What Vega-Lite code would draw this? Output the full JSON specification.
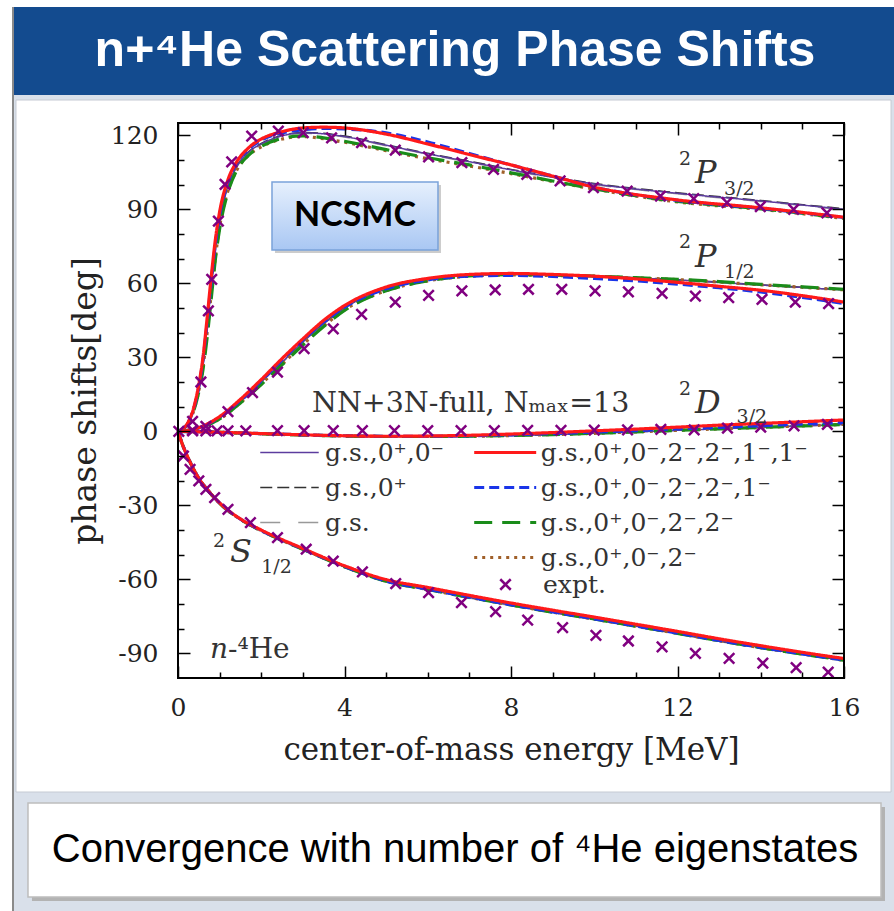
{
  "$schema": "https://vega.github.io/schema/vega-lite/v6.json",
  "width": 666,
  "height": 555,
  "autosize": "none",
  "padding": {"left": 178, "top": 123, "right": 50, "bottom": 233},
  "background": "white",
  "config": {"view": {"stroke": null}, "font": "DejaVu Serif"},
  "data": {"values": [{}]},
  "datasets": {
    "curves": [
      {"w":"P32","E":0,"n1":0,"n2":0,"n3":0,"n4":0,"n5":0,"n6":0,"n7":0},
      {"w":"P32","E":0.2,"n1":2.4,"n2":2.4,"n3":2.4,"n4":2.3,"n5":2.3,"n6":2.5,"n7":2.5},
      {"w":"P32","E":0.4,"n1":9.8,"n2":10.1,"n3":10,"n4":9.6,"n5":9.5,"n6":10.5,"n7":11},
      {"w":"P32","E":0.5,"n1":16.7,"n2":17.2,"n3":17,"n4":16.5,"n5":16,"n6":18,"n7":19},
      {"w":"P32","E":0.6,"n1":26.5,"n2":27.4,"n3":27,"n4":26,"n5":25,"n6":29,"n7":30},
      {"w":"P32","E":0.7,"n1":41.5,"n2":42.5,"n3":42,"n4":40,"n5":38,"n6":44,"n7":46},
      {"w":"P32","E":0.8,"n1":58.5,"n2":59.5,"n3":59,"n4":56,"n5":54,"n6":61,"n7":63},
      {"w":"P32","E":0.9,"n1":73.5,"n2":74.5,"n3":74,"n4":71,"n5":70,"n6":76,"n7":78},
      {"w":"P32","E":1.0,"n1":85,"n2":86,"n3":85.5,"n4":83,"n5":82,"n6":87.5,"n7":89},
      {"w":"P32","E":1.2,"n1":99.2,"n2":99.8,"n3":99.5,"n4":97.5,"n5":97,"n6":101,"n7":102},
      {"w":"P32","E":1.4,"n1":106.8,"n2":107.2,"n3":107,"n4":105.5,"n5":105.5,"n6":108.5,"n7":109},
      {"w":"P32","E":1.7,"n1":113,"n2":113.4,"n3":113.2,"n4":112,"n5":112,"n6":114.5,"n7":115},
      {"w":"P32","E":2.0,"n1":116.3,"n2":116.7,"n3":116.5,"n4":115.3,"n5":115.5,"n6":118,"n7":118.5},
      {"w":"P32","E":2.5,"n1":119.6,"n2":120,"n3":119.8,"n4":118.5,"n5":118.8,"n6":121,"n7":121.5},
      {"w":"P32","E":3,"n1":120.8,"n2":121.2,"n3":121,"n4":119.5,"n5":119.8,"n6":122.3,"n7":123},
      {"w":"P32","E":3.5,"n1":120.4,"n2":120.8,"n3":120.6,"n4":118.6,"n5":119,"n6":122.8,"n7":123.3},
      {"w":"P32","E":4,"n1":119.3,"n2":119.7,"n3":119.5,"n4":117.2,"n5":117.6,"n6":122.6,"n7":123},
      {"w":"P32","E":5,"n1":115.8,"n2":116.2,"n3":116,"n4":113.8,"n5":114.2,"n6":121,"n7":120.5},
      {"w":"P32","E":6,"n1":112.3,"n2":112.7,"n3":112.5,"n4":110.5,"n5":110.9,"n6":117.3,"n7":116.5},
      {"w":"P32","E":7,"n1":109.1,"n2":109.5,"n3":109.3,"n4":107.6,"n5":108,"n6":112.6,"n7":112.2},
      {"w":"P32","E":8,"n1":105.8,"n2":106.2,"n3":106,"n4":104.5,"n5":104.8,"n6":108,"n7":108},
      {"w":"P32","E":9,"n1":102.8,"n2":103.2,"n3":103,"n4":101.3,"n5":101.5,"n6":103.5,"n7":103.5},
      {"w":"P32","E":10,"n1":100.1,"n2":100.5,"n3":100.3,"n4":98.2,"n5":98.3,"n6":99,"n7":99},
      {"w":"P32","E":12,"n1":96.3,"n2":96.7,"n3":96.5,"n4":93,"n5":93.2,"n6":93.6,"n7":93.8},
      {"w":"P32","E":14,"n1":93.2,"n2":93.6,"n3":93.4,"n4":90,"n5":90.2,"n6":90.4,"n7":90.6},
      {"w":"P32","E":16,"n1":89.8,"n2":90.2,"n3":90,"n4":86.3,"n5":86.5,"n6":86.7,"n7":86.8},
      {"w":"P12","E":0,"n1":0,"n2":0,"n3":0,"n4":0,"n5":0,"n6":0,"n7":0},
      {"w":"P12","E":0.5,"n1":1.3,"n2":1.3,"n3":1.3,"n4":1.2,"n5":1.2,"n6":1.4,"n7":1.5},
      {"w":"P12","E":1,"n1":5.4,"n2":5.6,"n3":5.5,"n4":5,"n5":5,"n6":5.8,"n7":6},
      {"w":"P12","E":1.5,"n1":11.9,"n2":12.1,"n3":12,"n4":11.6,"n5":11.5,"n6":12.6,"n7":13},
      {"w":"P12","E":2,"n1":19.8,"n2":20.2,"n3":20,"n4":19.2,"n5":19,"n6":20.5,"n7":21},
      {"w":"P12","E":2.5,"n1":27.8,"n2":28.2,"n3":28,"n4":27.2,"n5":27,"n6":29,"n7":29.5},
      {"w":"P12","E":3,"n1":36.1,"n2":36.5,"n3":36.3,"n4":35.2,"n5":35,"n6":37,"n7":37.5},
      {"w":"P12","E":3.5,"n1":43.4,"n2":43.8,"n3":43.6,"n4":42.7,"n5":42.5,"n6":44.3,"n7":45},
      {"w":"P12","E":4,"n1":49.8,"n2":50.2,"n3":50,"n4":49.2,"n5":49,"n6":50.3,"n7":51},
      {"w":"P12","E":5,"n1":57.6,"n2":57.8,"n3":57.7,"n4":57,"n5":57,"n6":57.8,"n7":58.5},
      {"w":"P12","E":6,"n1":61.3,"n2":61.5,"n3":61.4,"n4":61,"n5":61,"n6":61.4,"n7":62},
      {"w":"P12","E":7,"n1":63.1,"n2":63.3,"n3":63.2,"n4":62.9,"n5":63,"n6":62.9,"n7":63.6},
      {"w":"P12","E":8,"n1":63.5,"n2":63.7,"n3":63.6,"n4":63.4,"n5":63.5,"n6":63.2,"n7":64},
      {"w":"P12","E":9,"n1":63.3,"n2":63.5,"n3":63.4,"n4":63.2,"n5":63.3,"n6":62.8,"n7":63.6},
      {"w":"P12","E":10,"n1":62.8,"n2":63,"n3":62.9,"n4":62.8,"n5":62.9,"n6":62,"n7":62.9},
      {"w":"P12","E":11,"n1":62.1,"n2":62.3,"n3":62.2,"n4":62.2,"n5":62.3,"n6":61,"n7":61.8},
      {"w":"P12","E":12,"n1":61.3,"n2":61.5,"n3":61.4,"n4":61.5,"n5":61.6,"n6":59.7,"n7":60.4},
      {"w":"P12","E":13,"n1":60.3,"n2":60.5,"n3":60.4,"n4":60.5,"n5":60.7,"n6":58.2,"n7":58.8},
      {"w":"P12","E":14,"n1":59.2,"n2":59.4,"n3":59.3,"n4":59.4,"n5":59.6,"n6":56.5,"n7":57.2},
      {"w":"P12","E":15,"n1":58.2,"n2":58.4,"n3":58.3,"n4":58.4,"n5":58.6,"n6":54.3,"n7":55},
      {"w":"P12","E":16,"n1":57.2,"n2":57.4,"n3":57.3,"n4":57.4,"n5":57.6,"n6":51.8,"n7":52.4},
      {"w":"S12","E":0,"n1":0,"n2":0,"n3":0,"n4":0,"n5":0,"n6":0,"n7":0},
      {"w":"S12","E":0.1,"n1":-5.2,"n2":-5.1,"n3":-5,"n4":-5,"n5":-5,"n6":-5,"n7":-5},
      {"w":"S12","E":0.25,"n1":-11.3,"n2":-11.2,"n3":-11.1,"n4":-11.1,"n5":-11.1,"n6":-11,"n7":-11},
      {"w":"S12","E":0.5,"n1":-19.4,"n2":-19.2,"n3":-19.1,"n4":-19.1,"n5":-19.1,"n6":-19,"n7":-19},
      {"w":"S12","E":0.75,"n1":-24.9,"n2":-24.7,"n3":-24.6,"n4":-24.6,"n5":-24.6,"n6":-24.5,"n7":-24.5},
      {"w":"S12","E":1,"n1":-29.5,"n2":-29.3,"n3":-29.2,"n4":-29.2,"n5":-29.2,"n6":-29.1,"n7":-29},
      {"w":"S12","E":1.5,"n1":-36,"n2":-35.8,"n3":-35.7,"n4":-35.7,"n5":-35.7,"n6":-35.6,"n7":-35.5},
      {"w":"S12","E":2,"n1":-40.6,"n2":-40.4,"n3":-40.3,"n4":-40.3,"n5":-40.3,"n6":-40.2,"n7":-40},
      {"w":"S12","E":3,"n1":-48.1,"n2":-47.9,"n3":-47.8,"n4":-47.8,"n5":-47.8,"n6":-47.7,"n7":-47.5},
      {"w":"S12","E":4,"n1":-55.2,"n2":-55,"n3":-54.9,"n4":-54.9,"n5":-54.9,"n6":-54.8,"n7":-54.5},
      {"w":"S12","E":5,"n1":-61.1,"n2":-60.9,"n3":-60.8,"n4":-60.8,"n5":-60.8,"n6":-60.7,"n7":-60.1},
      {"w":"S12","E":6,"n1":-64.4,"n2":-64.2,"n3":-64.1,"n4":-64.1,"n5":-64.1,"n6":-64,"n7":-63.3},
      {"w":"S12","E":7,"n1":-67.6,"n2":-67.4,"n3":-67.3,"n4":-67.3,"n5":-67.3,"n6":-67.2,"n7":-66.5},
      {"w":"S12","E":8,"n1":-70.7,"n2":-70.5,"n3":-70.4,"n4":-70.4,"n5":-70.4,"n6":-70.3,"n7":-69.6},
      {"w":"S12","E":9,"n1":-73.6,"n2":-73.4,"n3":-73.3,"n4":-73.3,"n5":-73.3,"n6":-73.2,"n7":-72.5},
      {"w":"S12","E":10,"n1":-76.4,"n2":-76.2,"n3":-76.1,"n4":-76.1,"n5":-76.1,"n6":-76,"n7":-75.3},
      {"w":"S12","E":11,"n1":-79.3,"n2":-79.1,"n3":-79,"n4":-79,"n5":-79,"n6":-78.9,"n7":-78.2},
      {"w":"S12","E":12,"n1":-82.2,"n2":-82,"n3":-81.9,"n4":-81.9,"n5":-81.9,"n6":-81.8,"n7":-81.1},
      {"w":"S12","E":13,"n1":-85.2,"n2":-85,"n3":-84.9,"n4":-84.9,"n5":-84.9,"n6":-84.8,"n7":-84.1},
      {"w":"S12","E":14,"n1":-88,"n2":-87.8,"n3":-87.7,"n4":-87.7,"n5":-87.7,"n6":-87.6,"n7":-86.9},
      {"w":"S12","E":15,"n1":-90.6,"n2":-90.4,"n3":-90.3,"n4":-90.3,"n5":-90.3,"n6":-90.2,"n7":-89.6},
      {"w":"S12","E":16,"n1":-93.1,"n2":-92.9,"n3":-92.8,"n4":-92.8,"n5":-92.8,"n6":-92.7,"n7":-92.1},
      {"w":"D32","E":0,"n1":0,"n2":0,"n3":0,"n4":0,"n5":0,"n6":0,"n7":0},
      {"w":"D32","E":1,"n1":-0.4,"n2":-0.4,"n3":-0.4,"n4":-0.4,"n5":-0.4,"n6":-0.4,"n7":-0.4},
      {"w":"D32","E":2,"n1":-1,"n2":-1,"n3":-1,"n4":-1,"n5":-1,"n6":-0.9,"n7":-0.9},
      {"w":"D32","E":3,"n1":-1.5,"n2":-1.5,"n3":-1.5,"n4":-1.5,"n5":-1.5,"n6":-1.4,"n7":-1.4},
      {"w":"D32","E":4,"n1":-1.9,"n2":-1.9,"n3":-1.9,"n4":-1.9,"n5":-1.9,"n6":-1.8,"n7":-1.8},
      {"w":"D32","E":5,"n1":-2.1,"n2":-2.1,"n3":-2.1,"n4":-2.1,"n5":-2.1,"n6":-2,"n7":-2},
      {"w":"D32","E":6,"n1":-2.1,"n2":-2.1,"n3":-2.1,"n4":-2.1,"n5":-2.1,"n6":-2,"n7":-1.9},
      {"w":"D32","E":7,"n1":-2,"n2":-2,"n3":-2,"n4":-2,"n5":-2,"n6":-1.8,"n7":-1.6},
      {"w":"D32","E":8,"n1":-1.7,"n2":-1.7,"n3":-1.7,"n4":-1.7,"n5":-1.7,"n6":-1.4,"n7":-1.1},
      {"w":"D32","E":9,"n1":-1.3,"n2":-1.3,"n3":-1.3,"n4":-1.3,"n5":-1.3,"n6":-0.9,"n7":-0.5},
      {"w":"D32","E":10,"n1":-0.8,"n2":-0.8,"n3":-0.8,"n4":-0.8,"n5":-0.8,"n6":-0.3,"n7":0.2},
      {"w":"D32","E":11,"n1":-0.2,"n2":-0.2,"n3":-0.2,"n4":-0.2,"n5":-0.2,"n6":0.3,"n7":0.9},
      {"w":"D32","E":12,"n1":0.4,"n2":0.4,"n3":0.4,"n4":0.4,"n5":0.4,"n6":1,"n7":1.7},
      {"w":"D32","E":13,"n1":1,"n2":1,"n3":1,"n4":1,"n5":1,"n6":1.6,"n7":2.5},
      {"w":"D32","E":14,"n1":1.6,"n2":1.6,"n3":1.6,"n4":1.6,"n5":1.6,"n6":2.3,"n7":3.2},
      {"w":"D32","E":15,"n1":2.2,"n2":2.2,"n3":2.2,"n4":2.2,"n5":2.2,"n6":3,"n7":3.9},
      {"w":"D32","E":16,"n1":2.8,"n2":2.8,"n3":2.8,"n4":2.8,"n5":2.8,"n6":3.6,"n7":4.6}
    ],
    "expt": [
      {"w":"S12","E":0.13,"d":-10},{"w":"S12","E":0.29,"d":-15.4},{"w":"S12","E":0.5,"d":-20.1},{"w":"S12","E":0.67,"d":-23.5},{"w":"S12","E":0.88,"d":-26.9},{"w":"S12","E":1.2,"d":-31.6},{"w":"S12","E":1.74,"d":-37},{"w":"S12","E":2.39,"d":-43.1},{"w":"S12","E":3.08,"d":-47.8},{"w":"S12","E":3.73,"d":-52.6},{"w":"S12","E":4.43,"d":-57},{"w":"S12","E":5.23,"d":-61.7},{"w":"S12","E":6.02,"d":-65.4},{"w":"S12","E":6.81,"d":-69.4},{"w":"S12","E":7.63,"d":-73.1},{"w":"S12","E":8.4,"d":-76.5},{"w":"S12","E":9.24,"d":-79.6},{"w":"S12","E":10.04,"d":-82.7},{"w":"S12","E":10.82,"d":-85},{"w":"S12","E":11.63,"d":-87.4},{"w":"S12","E":12.43,"d":-90},{"w":"S12","E":13.24,"d":-92},{"w":"S12","E":14.05,"d":-94},{"w":"S12","E":14.85,"d":-95.8},{"w":"S12","E":15.62,"d":-97.6},
      {"w":"D32","E":0.02,"d":0},{"w":"D32","E":0.35,"d":0.2},{"w":"D32","E":0.67,"d":0.2},{"w":"D32","E":0.94,"d":0.2},{"w":"D32","E":1.2,"d":0.2},{"w":"D32","E":1.63,"d":0.2},{"w":"D32","E":2.39,"d":0.3},{"w":"D32","E":3.03,"d":0.3},{"w":"D32","E":3.73,"d":0.3},{"w":"D32","E":4.43,"d":0.3},{"w":"D32","E":5.2,"d":0.3},{"w":"D32","E":6.0,"d":0.3},{"w":"D32","E":6.8,"d":0.3},{"w":"D32","E":7.6,"d":0.3},{"w":"D32","E":8.4,"d":0.4},{"w":"D32","E":9.2,"d":0.4},{"w":"D32","E":10.0,"d":0.5},{"w":"D32","E":10.8,"d":0.6},{"w":"D32","E":11.6,"d":0.8},{"w":"D32","E":12.4,"d":0.6},{"w":"D32","E":13.2,"d":1.3},{"w":"D32","E":14.0,"d":1.7},{"w":"D32","E":14.8,"d":2.2},{"w":"D32","E":15.6,"d":2.8},
      {"w":"P32","E":0.35,"d":4},{"w":"P32","E":0.55,"d":20},{"w":"P32","E":0.73,"d":48.8},{"w":"P32","E":0.81,"d":61.6},{"w":"P32","E":0.97,"d":85.2},{"w":"P32","E":1.13,"d":100.1},{"w":"P32","E":1.29,"d":109.2},{"w":"P32","E":1.77,"d":119.7},{"w":"P32","E":2.41,"d":121.7},{"w":"P32","E":3.01,"d":121.1},{"w":"P32","E":3.69,"d":119},{"w":"P32","E":4.41,"d":117},{"w":"P32","E":5.22,"d":114},{"w":"P32","E":6.02,"d":111.3},{"w":"P32","E":6.82,"d":108.9},{"w":"P32","E":7.58,"d":106.2},{"w":"P32","E":8.38,"d":104.2},{"w":"P32","E":9.18,"d":101.5},{"w":"P32","E":9.98,"d":98.8},{"w":"P32","E":10.79,"d":97.4},{"w":"P32","E":11.59,"d":95.4},{"w":"P32","E":12.39,"d":94.3},{"w":"P32","E":13.19,"d":92.7},{"w":"P32","E":13.99,"d":91.1},{"w":"P32","E":14.79,"d":90},{"w":"P32","E":15.59,"d":88.6},
      {"w":"P12","E":0.35,"d":0.5},{"w":"P12","E":0.67,"d":2},{"w":"P12","E":1.2,"d":8},{"w":"P12","E":1.79,"d":15.7},{"w":"P12","E":2.39,"d":24},{"w":"P12","E":3.03,"d":33.5},{"w":"P12","E":3.73,"d":41.5},{"w":"P12","E":4.41,"d":47.4},{"w":"P12","E":5.22,"d":52.4},{"w":"P12","E":6.02,"d":55.1},{"w":"P12","E":6.82,"d":56.9},{"w":"P12","E":7.62,"d":57.3},{"w":"P12","E":8.42,"d":57.6},{"w":"P12","E":9.22,"d":57.6},{"w":"P12","E":10.02,"d":56.9},{"w":"P12","E":10.82,"d":56.5},{"w":"P12","E":11.63,"d":55.9},{"w":"P12","E":12.43,"d":54.8},{"w":"P12","E":13.23,"d":54.2},{"w":"P12","E":14.03,"d":53.5},{"w":"P12","E":14.83,"d":52.4},{"w":"P12","E":15.63,"d":51.8}
    ]
  },
  "resolve": {
    "scale": {"color": "independent", "strokeDash": "independent"},
    "axis": {"x": "independent", "y": "independent"}
  },
  "layer": [
    {"mark": {"type": "rect", "fill": "#d9e0ea"},
     "encoding": {"x": {"datum": -3.964, "axis": null}, "x2": {"datum": 17.5}, "y": {"datum": 172.03, "axis": null}, "y2": {"datum": -196.1}}},
    {"mark": {"type": "rect", "fill": "#134b8f"},
     "encoding": {"x": {"datum": -3.964, "axis": null}, "x2": {"datum": 17.5}, "y": {"datum": 172.03, "axis": null}, "y2": {"datum": 136.35}}},
    {"mark": {"type": "rule", "stroke": "#8a8a8a", "strokeWidth": 2},
     "encoding": {"x": {"datum": -3.964, "axis": null}, "y": {"datum": 172.03, "axis": null}, "y2": {"datum": -196.1}}},
    {"mark": {"type": "rect", "fill": "white", "stroke": "#c5cad3", "strokeWidth": 1},
     "encoding": {"x": {"datum": -3.892, "axis": null}, "x2": {"datum": 17.13}, "y": {"datum": 134.32, "axis": null}, "y2": {"datum": -146.22}}},
    {"mark": {"type": "rect", "fill": "#b3b3b3"},
     "encoding": {"x": {"datum": -3.508, "axis": null}, "x2": {"datum": 16.985}, "y": {"datum": -152.3, "axis": null}, "y2": {"datum": -190.4}}},
    {"mark": {"type": "rect", "fill": "white", "stroke": "#bdbdbd", "strokeWidth": 1.5},
     "encoding": {"x": {"datum": -3.604, "axis": null}, "x2": {"datum": 16.889}, "y": {"datum": -150.7, "axis": null}, "y2": {"datum": -188.8}}},
    {"mark": {"type": "text", "text": "n+⁴He Scattering Phase Shifts", "font": "Liberation Sans, Arial, sans-serif", "fontWeight": "bold", "fontSize": 50, "color": "white"},
     "encoding": {"x": {"datum": 6.655, "axis": null}, "y": {"datum": 154.2, "axis": null}}},
    {"mark": {"type": "text", "text": "Convergence with number of ⁴He eigenstates", "font": "Liberation Sans, Arial, sans-serif", "fontSize": 40, "color": "black"},
     "encoding": {"x": {"datum": 6.655, "axis": null}, "y": {"datum": -169.7, "axis": null}}},
    {"mark": {"type": "rect", "fill": "#8f8f8f", "opacity": 0.45},
     "encoding": {"x": {"datum": 2.33, "axis": null}, "x2": {"datum": 6.318}, "y": {"datum": 99.86, "axis": null}, "y2": {"datum": 72.3}}},
    {"mark": {"type": "rect", "stroke": "#7aa3da", "strokeWidth": 1.5,
              "fill": {"x1": 0, "y1": 0, "x2": 0, "y2": 1, "gradient": "linear", "stops": [{"offset": 0, "color": "#e6f0fd"}, {"offset": 1, "color": "#a9c7f3"}]}},
     "encoding": {"x": {"datum": 2.258, "axis": null}, "x2": {"datum": 6.246}, "y": {"datum": 101.08, "axis": null}, "y2": {"datum": 73.51}}},
    {"mark": {"type": "text", "text": "NCSMC", "font": "Lato", "fontWeight": "bold", "fontSize": 34, "color": "black"},
     "encoding": {"x": {"datum": 4.252, "axis": null}, "y": {"datum": 87.3, "axis": null}}},
    {"data": {"name": "curves"},
     "transform": [
       {"fold": ["n1", "n2", "n3", "n4", "n5", "n6", "n7"], "as": ["states", "delta"]},
       {"filter": {"field": "states", "oneOf": ["n1", "n2", "n3"]}}
     ],
     "mark": {"type": "line", "strokeWidth": 1.5, "interpolate": "monotone"},
     "encoding": {
       "x": {"field": "E", "type": "quantitative", "axis": null},
       "y": {"field": "delta", "type": "quantitative", "axis": null},
       "detail": {"field": "w"},
       "color": {"field": "states", "type": "nominal",
                 "scale": {"domain": ["n3", "n2", "n1"], "range": ["#5c3c9e", "#333333", "#999999"]},
                 "legend": {"orient": "none", "legendX": 99, "legendY": 317, "title": null, "padding": 0,
                            "symbolType": "M-3,0H3", "symbolSize": 380, "symbolStrokeWidth": 1.5, "symbolFillColor": "transparent",
                            "labelOffset": 23, "rowPadding": 9, "labelFont": "DejaVu Serif", "labelFontSize": 25, "labelColor": "#333", "labelLimit": 0,
                            "labelExpr": "datum.label === 'n3' ? 'g.s.,0⁺,0⁻' : datum.label === 'n2' ? 'g.s.,0⁺' : 'g.s.'"}},
       "strokeDash": {"field": "states", "type": "nominal",
                 "scale": {"domain": ["n3", "n2", "n1"], "range": [[1, 0], [12, 5], [20, 18]]},
                 "legend": {"orient": "none", "legendX": 99, "legendY": 317, "title": null, "padding": 0,
                            "symbolType": "M-3,0H3", "symbolSize": 380, "symbolStrokeWidth": 1.5, "symbolFillColor": "transparent",
                            "labelOffset": 23, "rowPadding": 9, "labelFont": "DejaVu Serif", "labelFontSize": 25, "labelColor": "#333", "labelLimit": 0,
                            "labelExpr": "datum.label === 'n3' ? 'g.s.,0⁺,0⁻' : datum.label === 'n2' ? 'g.s.,0⁺' : 'g.s.'"}}
     }},
    {"data": {"name": "curves"},
     "transform": [
       {"fold": ["n1", "n2", "n3", "n4", "n5", "n6", "n7"], "as": ["states", "delta"]},
       {"filter": {"field": "states", "oneOf": ["n4", "n5", "n6", "n7"]}}
     ],
     "mark": {"type": "line", "strokeWidth": 3.2, "interpolate": "monotone"},
     "encoding": {
       "x": {"field": "E", "type": "quantitative",
             "scale": {"domain": [0, 16], "nice": false, "zero": false},
             "axis": {"values": [0,1,2,3,4,5,6,7,8,9,10,11,12,13,14,15,16],
                      "tickSize": {"condition": {"test": "datum.value % 4 === 0", "value": -12}, "value": -6},
                      "labelExpr": "datum.value % 4 === 0 ? datum.label : ''",
                      "labelPadding": 29, "labelFlush": false, "labelOverlap": false,
                      "labelFont": "DejaVu Serif", "labelFontSize": 25, "labelColor": "#222",
                      "tickColor": "black", "tickWidth": 1.5, "domain": false, "grid": false, "zindex": 1,
                      "title": "center-of-mass energy [MeV]", "titleFont": "DejaVu Serif", "titleFontSize": 31,
                      "titleFontWeight": "normal", "titleColor": "#222", "titlePadding": 9}},
       "y": {"field": "delta", "type": "quantitative",
             "scale": {"domain": [-100, 125], "nice": false, "zero": false},
             "axis": {"values": [-90,-80,-70,-60,-50,-40,-30,-20,-10,0,10,20,30,40,50,60,70,80,90,100,110,120],
                      "tickSize": {"condition": {"test": "datum.value % 30 === 0", "value": -12}, "value": -6},
                      "labelExpr": "datum.value % 30 === 0 ? (datum.value + '') : ''",
                      "labelPadding": 32, "labelFlush": false, "labelOverlap": false,
                      "labelFont": "DejaVu Serif", "labelFontSize": 25, "labelColor": "#222",
                      "tickColor": "black", "tickWidth": 1.5, "domain": false, "grid": false, "zindex": 1,
                      "title": "phase shifts[deg]", "titleFont": "DejaVu Serif", "titleFontSize": 33,
                      "titleFontWeight": "normal", "titleColor": "#222", "titlePadding": 8}},
       "detail": {"field": "w"},
       "color": {"field": "states", "type": "nominal",
                 "scale": {"domain": ["n7", "n6", "n5", "n4"], "range": ["#ff1a1a", "#1a35e8", "#1a8c1a", "#a0602a"]},
                 "legend": {"orient": "none", "legendX": 314.7, "legendY": 317, "title": null, "padding": 0,
                            "symbolType": "M-3,0H3", "symbolSize": 427, "symbolStrokeWidth": 3, "symbolFillColor": "transparent",
                            "labelOffset": 23, "rowPadding": 9, "labelFont": "DejaVu Serif", "labelFontSize": 25, "labelColor": "#333", "labelLimit": 0,
                            "labelExpr": "datum.label === 'n7' ? 'g.s.,0⁺,0⁻,2⁻,2⁻,1⁻,1⁻' : datum.label === 'n6' ? 'g.s.,0⁺,0⁻,2⁻,2⁻,1⁻' : datum.label === 'n5' ? 'g.s.,0⁺,0⁻,2⁻,2⁻' : 'g.s.,0⁺,0⁻,2⁻'"}},
       "strokeDash": {"field": "states", "type": "nominal",
                 "scale": {"domain": ["n7", "n6", "n5", "n4"], "range": [[1, 0], [10, 5], [18, 10], [3, 5]]},
                 "legend": {"orient": "none", "legendX": 314.7, "legendY": 317, "title": null, "padding": 0,
                            "symbolType": "M-3,0H3", "symbolSize": 427, "symbolStrokeWidth": 3, "symbolFillColor": "transparent",
                            "labelOffset": 23, "rowPadding": 9, "labelFont": "DejaVu Serif", "labelFontSize": 25, "labelColor": "#333", "labelLimit": 0,
                            "labelExpr": "datum.label === 'n7' ? 'g.s.,0⁺,0⁻,2⁻,2⁻,1⁻,1⁻' : datum.label === 'n6' ? 'g.s.,0⁺,0⁻,2⁻,2⁻,1⁻' : datum.label === 'n5' ? 'g.s.,0⁺,0⁻,2⁻,2⁻' : 'g.s.,0⁺,0⁻,2⁻'"}}
     }},
    {"data": {"name": "expt"},
     "mark": {"type": "point", "shape": "M-1,-1L1,1M1,-1L-1,1", "filled": false, "strokeWidth": 2.5, "size": 110, "opacity": 1},
     "encoding": {
       "x": {"field": "E", "type": "quantitative",
             "axis": {"orient": "top", "values": [0,1,2,3,4,5,6,7,8,9,10,11,12,13,14,15,16],
                      "tickSize": {"condition": {"test": "datum.value % 4 === 0", "value": -12}, "value": -6},
                      "labels": false, "tickColor": "black", "tickWidth": 1.5, "domain": false, "grid": false, "zindex": 1, "title": null}},
       "y": {"field": "d", "type": "quantitative",
             "axis": {"orient": "right", "values": [-90,-80,-70,-60,-50,-40,-30,-20,-10,0,10,20,30,40,50,60,70,80,90,100,110,120],
                      "tickSize": {"condition": {"test": "datum.value % 30 === 0", "value": -12}, "value": -6},
                      "labels": false, "tickColor": "black", "tickWidth": 1.5, "domain": false, "grid": false, "zindex": 1, "title": null}},
       "color": {"datum": "expt.", "type": "nominal",
                 "scale": {"range": ["#800080"]},
                 "legend": {"orient": "none", "legendX": 315, "legendY": 449, "title": null, "padding": 0,
                            "symbolType": "M-1,-1L1,1M1,-1L-1,1", "symbolSize": 110, "symbolStrokeWidth": 2.5, "symbolFillColor": "transparent",
                            "labelOffset": 25, "labelFont": "DejaVu Serif", "labelFontSize": 25, "labelColor": "#333", "labelLimit": 0}}
     }},
    {"mark": {"type": "rect", "filled": false, "stroke": "black", "strokeWidth": 2},
     "encoding": {"x": {"datum": 0, "axis": null}, "x2": {"datum": 16}, "y": {"datum": -100, "axis": null}, "y2": {"datum": 125}}},
    {"mark": {"type": "text", "text": "2", "font": "DejaVu Serif", "fontSize": 19, "color": "#333", "align": "right", "baseline": "alphabetic"},
     "encoding": {"x": {"datum": 12.325, "axis": null}, "y": {"datum": 107.97, "axis": null}}},
    {"mark": {"type": "text", "text": "P", "font": "DejaVu Serif", "fontStyle": "italic", "fontSize": 32, "color": "#333", "align": "left", "baseline": "alphabetic"},
     "encoding": {"x": {"datum": 12.42, "axis": null}, "y": {"datum": 100.55, "axis": null}}},
    {"mark": {"type": "text", "text": "3/2", "font": "DejaVu Serif", "fontSize": 19, "color": "#333", "align": "left", "baseline": "alphabetic"},
     "encoding": {"x": {"datum": 13.12, "axis": null}, "y": {"datum": 95.8, "axis": null}}},
    {"mark": {"type": "text", "text": "2", "font": "DejaVu Serif", "fontSize": 19, "color": "#333", "align": "right", "baseline": "alphabetic"},
     "encoding": {"x": {"datum": 12.325, "axis": null}, "y": {"datum": 74.32, "axis": null}}},
    {"mark": {"type": "text", "text": "P", "font": "DejaVu Serif", "fontStyle": "italic", "fontSize": 32, "color": "#333", "align": "left", "baseline": "alphabetic"},
     "encoding": {"x": {"datum": 12.42, "axis": null}, "y": {"datum": 66.74, "axis": null}}},
    {"mark": {"type": "text", "text": "1/2", "font": "DejaVu Serif", "fontSize": 19, "color": "#333", "align": "left", "baseline": "alphabetic"},
     "encoding": {"x": {"datum": 13.12, "axis": null}, "y": {"datum": 62.16, "axis": null}}},
    {"mark": {"type": "text", "text": "2", "font": "DejaVu Serif", "fontSize": 19, "color": "#333", "align": "right", "baseline": "alphabetic"},
     "encoding": {"x": {"datum": 12.325, "axis": null}, "y": {"datum": 14.73, "axis": null}}},
    {"mark": {"type": "text", "text": "D", "font": "DejaVu Serif", "fontStyle": "italic", "fontSize": 32, "color": "#333", "align": "left", "baseline": "alphabetic"},
     "encoding": {"x": {"datum": 12.42, "axis": null}, "y": {"datum": 7.31, "axis": null}}},
    {"mark": {"type": "text", "text": "3/2", "font": "DejaVu Serif", "fontSize": 19, "color": "#333", "align": "left", "baseline": "alphabetic"},
     "encoding": {"x": {"datum": 13.42, "axis": null}, "y": {"datum": 3.26, "axis": null}}},
    {"mark": {"type": "text", "text": "2", "font": "DejaVu Serif", "fontSize": 19, "color": "#333", "align": "right", "baseline": "alphabetic"},
     "encoding": {"x": {"datum": 1.129, "axis": null}, "y": {"datum": -46.77, "axis": null}}},
    {"mark": {"type": "text", "text": "S", "font": "DejaVu Serif", "fontStyle": "italic", "fontSize": 32, "color": "#333", "align": "left", "baseline": "alphabetic"},
     "encoding": {"x": {"datum": 1.249, "axis": null}, "y": {"datum": -52.85, "axis": null}}},
    {"mark": {"type": "text", "text": "1/2", "font": "DejaVu Serif", "fontSize": 19, "color": "#333", "align": "left", "baseline": "alphabetic"},
     "encoding": {"x": {"datum": 2.0, "axis": null}, "y": {"datum": -57.55, "axis": null}}},
    {"mark": {"type": "text", "text": "NN+3N-full, Nₘₐₓ=13", "font": "DejaVu Serif", "fontSize": 28.5, "color": "#333", "align": "center", "baseline": "middle"},
     "encoding": {"x": {"datum": 7.03, "axis": null}, "y": {"datum": 11.5, "axis": null}}},
    {"mark": {"type": "text", "text": "n", "font": "DejaVu Serif", "fontStyle": "italic", "fontSize": 28, "color": "#333", "align": "right", "baseline": "alphabetic"},
     "encoding": {"x": {"datum": 1.2, "axis": null}, "y": {"datum": -91.9, "axis": null}}},
    {"mark": {"type": "text", "text": "-⁴He", "font": "DejaVu Serif", "fontSize": 28, "color": "#333", "align": "left", "baseline": "alphabetic"},
     "encoding": {"x": {"datum": 1.2, "axis": null}, "y": {"datum": -91.9, "axis": null}}}
  ]
}
